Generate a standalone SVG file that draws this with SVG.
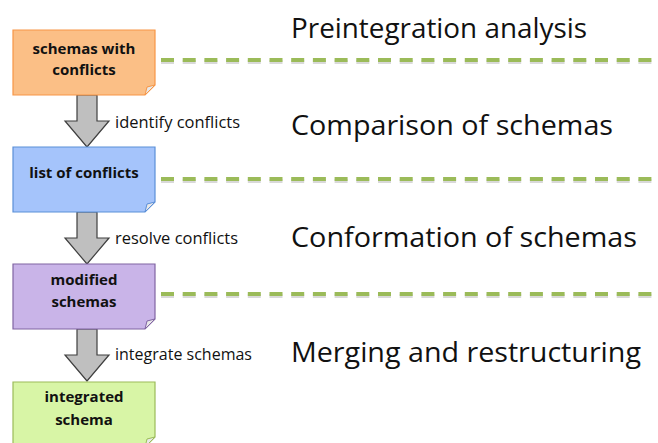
<svg xmlns="http://www.w3.org/2000/svg" width="658" height="443" viewBox="0 0 658 443">
<defs>
<style>
.box{stroke-width:1.2}
.lbl{font-family:"Open Sans","Liberation Sans",sans-serif;font-weight:bold;font-size:15px;fill:#111;text-anchor:middle}
.el{font-family:"Open Sans","Liberation Sans",sans-serif;font-size:15.5px;fill:#111}
.ttl{font-family:"Open Sans","Liberation Sans",sans-serif;font-size:28px;fill:#111}
.dash{stroke:#9BBB59;stroke-width:4;stroke-dasharray:13 8.7;fill:none}
.dsh{stroke:#000;stroke-opacity:0.15;stroke-width:4;stroke-dasharray:13 8.7;fill:none}
.arr{fill:#BFBFBF;stroke:#3F3F3F;stroke-width:1.2}
.fold{fill:#E8E8E8;stroke-width:1}
</style>
</defs>
<rect width="658" height="443" fill="#fff"/>
<g id="connectors">
<path class="arr" d="M77,95 H97 V121 H109 L87,147 L65,121 H77 Z"/>
<path class="arr" d="M77,212 H97 V238 H109 L87,264 L65,238 H77 Z"/>
<path class="arr" d="M77,329 H97 V355 H109 L87,381 L65,355 H77 Z"/>
<text class="el" x="115" y="128" textLength="125" lengthAdjust="spacingAndGlyphs">identify conflicts</text>
<text class="el" x="115" y="244" textLength="123" lengthAdjust="spacingAndGlyphs">resolve conflicts</text>
<text class="el" x="115" y="360" textLength="137" lengthAdjust="spacingAndGlyphs">integrate schemas</text>
</g>
<g id="dividers">
<line class="dsh" x1="161" y1="62" x2="652" y2="62"/>
<line class="dash" x1="161" y1="60" x2="652" y2="60"/>
<line class="dsh" x1="161" y1="181" x2="652" y2="181"/>
<line class="dash" x1="161" y1="179" x2="652" y2="179"/>
<line class="dsh" x1="161" y1="296" x2="652" y2="296"/>
<line class="dash" x1="161" y1="294" x2="652" y2="294"/>
</g>
<g id="titles">
<text class="ttl" x="291" y="38" textLength="296" lengthAdjust="spacingAndGlyphs">Preintegration analysis</text>
<text class="ttl" x="291" y="135" textLength="322" lengthAdjust="spacingAndGlyphs">Comparison of schemas</text>
<text class="ttl" x="291" y="247" textLength="346" lengthAdjust="spacingAndGlyphs">Conformation of schemas</text>
<text class="ttl" x="291" y="362" textLength="350" lengthAdjust="spacingAndGlyphs">Merging and restructuring</text>
</g>
<g id="n1">
<path class="box" d="M13,30 H155 V85 L145,95 H13 Z" fill="#FBBF86" stroke="#F79646"/>
<path class="fold" d="M155,85 L145,95 L147,87 Z" stroke="#F79646"/>
<text class="lbl" x="84" y="54">schemas with</text>
<text class="lbl" x="84" y="75">conflicts</text>
</g>
<g id="n2">
<path class="box" d="M13,147 H155 V202 L145,212 H13 Z" fill="#A5C4FB" stroke="#5B8FD8"/>
<path class="fold" d="M155,202 L145,212 L147,204 Z" stroke="#5B8FD8"/>
<text class="lbl" x="84" y="178">list of conflicts</text>
</g>
<g id="n3">
<path class="box" d="M13,264 H155 V319 L145,329 H13 Z" fill="#C9B4E8" stroke="#8064A2"/>
<path class="fold" d="M155,319 L145,329 L147,321 Z" stroke="#8064A2"/>
<text class="lbl" x="84" y="285">modified</text>
<text class="lbl" x="84" y="307">schemas</text>
</g>
<g id="n4">
<path class="box" d="M13,382 H155 V437 L145,447 H13 Z" fill="#D8F5A6" stroke="#9BBB59"/>
<path class="fold" d="M155,437 L145,447 L147,439 Z" stroke="#9BBB59"/>
<text class="lbl" x="84" y="402">integrated</text>
<text class="lbl" x="84" y="425">schema</text>
</g>
</svg>
